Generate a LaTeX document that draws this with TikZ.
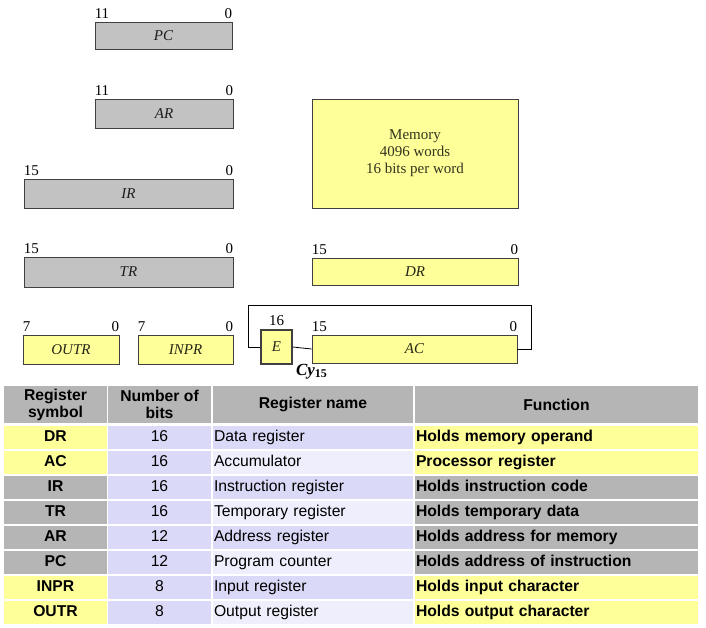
\documentclass[tikz,border=0pt]{standalone}
\usepackage{fontspec}
\setmainfont{Liberation Serif}
\newfontfamily\tabfont{Liberation Sans}
\definecolor{regGray}{HTML}{C2C2C2}
\definecolor{regYellow}{HTML}{FFFF99}
\definecolor{tabGray}{HTML}{B5B5B5}
\definecolor{tabLav}{HTML}{DADAF8}
\definecolor{tabLight}{HTML}{EEEEFC}
\begin{document}
\begin{tikzpicture}[x=1pt, y=-1pt, every node/.style={inner sep=0pt},
    reg/.style={draw=black!75, line width=0.8pt, rectangle, font=\fontsize{15}{17}\selectfont\itshape},
    bitno/.style={font=\fontsize{15}{17}\selectfont},
    cell/.style={minimum height=23, font=\tabfont\fontsize{15.7}{17}\selectfont},
    hdr/.style={cell, fill=tabGray, font=\tabfont\bfseries\fontsize{15.7}{17}\selectfont},
    rowh/.style={text height=11.5pt, text depth=3.5pt}]
  \useasboundingbox (0,0) rectangle (706,627);

  \foreach \name/\l/\t/\r/\b/\hi/\col in {PC/95/22/232/49/11/regGray, AR/95/99/233/128/11/regGray,
      IR/24/179/233/208/15/regGray, TR/24/257/233/287/15/regGray, DR/312/258/518/285/15/regYellow,
      OUTR/23/335/119/364/7/regYellow, INPR/138/335/233/364/7/regYellow, AC/312/335/517/363/15/regYellow}{%
    \pgfmathsetmacro\w{\r-\l}
    \pgfmathsetmacro\h{\b-\t}
    \node[reg, fill=\col, text=\col!15!black, minimum width=\w, minimum height=\h]
      (\name) at ({(\l+\r)/2},{(\t+\b)/2}) {\name};
    \node[bitno, anchor=south west] (\name hi) at ([yshift=3pt]\name.north west) {\hi};
    \node[bitno, anchor=south east] (\name lo) at ([yshift=3pt]\name.north east) {0};
  }

  \node[reg, fill=regYellow, text=regYellow!15!black, line width=1.6pt, minimum width=31, minimum height=34]
    (E) at (276.5,347) {E};
  \node[bitno, anchor=south] (Ehi) at ([yshift=3pt]E.north) {16};
  \node[anchor=north west, font=\fontsize{17}{17}\selectfont\bfseries\itshape]
    (cy) at ([xshift=3pt,yshift=1pt]E.south east) {Cy\textsubscript{\upshape 15}};

  \node[draw=black!75, line width=0.8pt, fill=regYellow, text=regYellow!20!black, minimum width=206, minimum height=109,
    align=center, font=\fontsize{15}{17}\selectfont] (mem) at (415,153.5) {Memory\\4096 words\\16 bits per word};

  \coordinate (loop) at (531,305);
  \draw[line width=0.8pt] (E.west) -- ++(-12,0) |- (loop) |- (AC.east);
  \draw[line width=0.8pt] (E.east) -- (AC.west);

  \node[hdr, minimum width=103, minimum height=37, align=center] (h1) at (55.5,404.5) {Register\\symbol};
  \node[hdr, minimum width=103, minimum height=37, align=center] (h2) at (159.5,404.5) {Number of\\bits};
  \node[hdr, minimum width=200, minimum height=37] (h3) at (313,404.5) {Register name};
  \node[hdr, minimum width=283, minimum height=37] (h4) at (556.5,404.5) {Function};

  \foreach \sym/\bits/\rname/\func/\col [count=\i] in {DR/16/Data register/Holds memory operand/regYellow,
      AC/16/Accumulator/Processor register/regYellow, IR/16/Instruction register/Holds instruction code/tabGray,
      TR/16/Temporary register/Holds temporary data/tabGray, AR/12/Address register/Holds address for memory/tabGray,
      PC/12/Program counter/Holds address of instruction/tabGray, INPR/8/Input register/Holds input character/regYellow,
      OUTR/8/Output register/Holds output character/regYellow}{%
    \pgfmathsetmacro\yc{437.5+25*(\i-1)}
    \ifodd\i \def\namecol{tabLav}\else \def\namecol{tabLight}\fi
    \node[hdr, rowh, fill=\col, minimum width=103, minimum height=23] (sym\i) at (55.5,\yc) {\sym};
    \node[cell, rowh, fill=tabLav, minimum width=103] (bits\i) at (159.5,\yc) {\bits};
    \node[cell, rowh, fill=\namecol, text width=198, inner xsep=1pt, align=left] (rname\i) at (313,\yc) {\rname};
    \node[hdr, rowh, fill=\col, minimum height=23, text width=281, inner xsep=1pt, align=left] (func\i) at (556.5,\yc) {\func};
  }
\end{tikzpicture}
\end{document}
